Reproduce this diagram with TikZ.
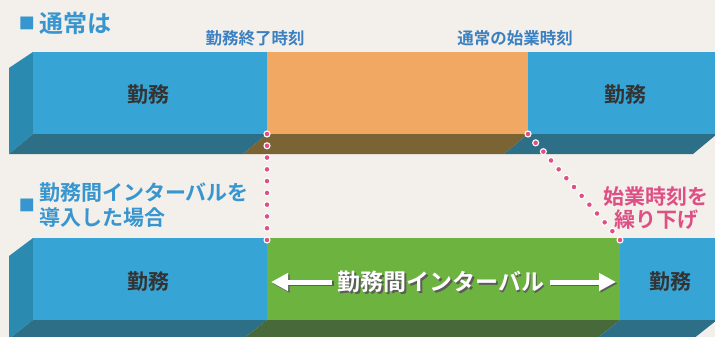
\documentclass[tikz,border=0pt]{standalone}
\usepackage{fontspec}
\newfontfamily\jp[BoldFont={Noto Sans CJK JP Bold}]{Noto Sans CJK JP}
\usetikzlibrary{calc,arrows.meta}
\definecolor{paper}{HTML}{F3EFEA}
\definecolor{blueF}{HTML}{36A5D6}
\definecolor{blueS}{HTML}{2B8AB0}
\definecolor{blueB}{HTML}{2D6F87}
\definecolor{orangeF}{HTML}{F0A862}
\definecolor{orangeB}{HTML}{7A6434}
\definecolor{greenF}{HTML}{6DB33F}
\definecolor{greenB}{HTML}{486A3B}
\definecolor{headblue}{HTML}{3796CF}
\definecolor{markblue}{HTML}{3A80C2}
\definecolor{dotpink}{HTML}{DE4F86}
\definecolor{ink}{HTML}{333333}
\tikzset{
  headmark/.style={font={\jp\bfseries\fontsize{16}{16}\selectfont}, text=headblue, inner sep=0pt},
  head/.style={font={\jp\bfseries\fontsize{21}{25}\selectfont}, text=headblue, inner sep=0pt, align=left},
  timelbl/.style={font={\jp\bfseries\fontsize{16.5}{18}\selectfont}, text=markblue, inner sep=0pt},
  worklbl/.style={font={\jp\bfseries\fontsize{21}{22}\selectfont}, text=ink, inner sep=0pt},
  gaplbl/.style={font={\jp\bfseries\fontsize{23}{24}\selectfont}, inner sep=5pt},
  delaylbl/.style={font={\jp\bfseries\fontsize{21}{23}\selectfont}, text=dotpink, inner sep=0pt, align=center},
  dot/.style={fill=dotpink, draw=white, line width=1.1pt},
  gaparrow/.style={line width=5pt, -{Triangle[length=17pt,width=17pt]}}
}
\begin{document}
\begin{tikzpicture}[x=1pt,y=-1pt]
  \useasboundingbox (0,0) rectangle (715,337);
  \fill[paper] (0,0) rectangle (715,337);
  \clip (0,0) rectangle (715,337);

  % normal day
  \fill[blueS] (33,52) -- (9,68) -- (9,154) -- (33,134) -- cycle;
  \fill[blueF] (33,52) rectangle (267,134);
  \fill[orangeF] (267,52) rectangle (528,134);
  \fill[blueF] (528,52) rectangle (720,134);
  \fill[blueB] (33,134) -- (267,134) -- (243,154) -- (9,154) -- cycle;
  \fill[orangeB] (267,134) -- (528,134) -- (504,154) -- (243,154) -- cycle;
  \fill[blueB] (528,134) -- (717,134) -- (693,154) -- (504,154) -- cycle;

  % with interval
  \fill[blueS] (33,238) -- (9,256) -- (9,339) -- (33,320) -- cycle;
  \fill[blueF] (33,238) rectangle (267,320);
  \fill[greenF] (267,238) rectangle (620,320);
  \fill[blueF] (620,238) rectangle (720,320);
  \fill[blueB] (33,320) -- (267,320) -- (243,339) -- (9,339) -- cycle;
  \fill[greenB] (267,320) -- (620,320) -- (596,339) -- (243,339) -- cycle;
  \fill[blueB] (620,320) -- (717,320) -- (693,339) -- (596,339) -- cycle;

  \coordinate (endA) at (267,134);
  \coordinate (gapA) at (267,240);
  \coordinate (endB) at (528,134);
  \coordinate (gapB) at (620,240);

  \node[headmark] (mark1) at (27,23) {■};
  \node[head, font={\jp\bfseries\fontsize{24}{26}\selectfont}, anchor=west] (normal) at (39,23) {通常は};
  \node[headmark] (mark2) at (27,205) {■};
  \node[head, anchor=west] (withgap) at (39,205) {勤務間インターバルを\\導入した場合};

  \node[timelbl] (endlbl) at (255,38) {勤務終了時刻};
  \node[timelbl] (startlbl) at (515,38) {通常の始業時刻};

  \node[worklbl] (work1) at (148,95) {勤務};
  \node[worklbl] (work2) at (625,95) {勤務};
  \node[worklbl] (work3) at (148,282) {勤務};
  \node[worklbl] (work4) at (670,282) {勤務};

  \node[delaylbl] (delay) at (656,208) {始業時刻を\\繰り下げ};

  % dotted markers
  \foreach \i in {0,...,9}
    \filldraw[dot] ($(endA)!{\i/9}!(gapA)$) circle (3);
  \foreach \i in {0,...,12}
    \filldraw[dot] ($(endB)!{\i/12}!(gapB)$) circle (3);

  % interval label and arrows
  \coordinate (gapL) at (271,282);
  \coordinate (gapR) at (616,282);
  \node[gaplbl, text=ink!80] (gapshadow) at (442.5,283.5) {勤務間インターバル};
  \node[gaplbl, text=white] (gap) at (441,282) {勤務間インターバル};
  \draw[gaparrow, ink!80] ($(gap.west)+(1.5,1.5)$) -- ($(gapL)+(1.5,1.5)$);
  \draw[gaparrow, ink!80] ($(gap.east)+(1.5,1.5)$) -- ($(gapR)+(1.5,1.5)$);
  \draw[gaparrow, white] (gap.west) -- (gapL);
  \draw[gaparrow, white] (gap.east) -- (gapR);
\end{tikzpicture}
\end{document}
